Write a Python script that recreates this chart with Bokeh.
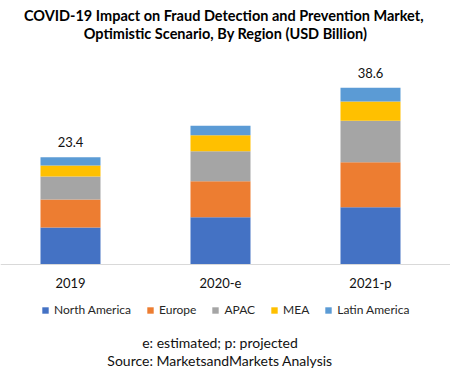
from bokeh.plotting import figure
from bokeh.models import (Range1d, Legend, LegendItem, Label, ColumnDataSource, Span)
from bokeh.core.properties import value
from bokeh.embed import file_html
from bokeh.resources import INLINE

categories = ["2019", "2020-e", "2021-p"]
regions = ["North America", "Europe", "APAC", "MEA", "Latin America"]
north_america = [8.1, 10.3, 12.5]
europe = [6.1, 7.9, 9.8]
apac = [5.0, 6.5, 9.1]
mea = [2.4, 3.5, 4.2]
latin_america = [1.8, 2.1, 3.0]
total_labels = ["23.4", "", "38.6"]
colors = ["#4472C4", "#ED7D31", "#A5A5A5", "#FFC000", "#5B9BD5"]

title_lines = ["COVID-19  Impact on Fraud Detection and Prevention Market,",
               "Optimistic Scenario, By Region (USD Billion)"]
footer_lines = ["e: estimated; p: projected", "Source: MarketsandMarkets Analysis"]

FONT = "Lato"
xs = list(range(len(categories)))
src = ColumnDataSource(dict(
    x=xs,
    **{"North America": north_america, "Europe": europe, "APAC": apac,
       "MEA": mea, "Latin America": latin_america}))

p = figure(width=450, height=371, output_backend="svg", toolbar_location=None,
           x_range=Range1d(-0.46667, 2.53333), y_range=Range1d(-23.36, 57.64),
           x_axis_location=None, y_axis_location=None,
           min_border=0)
p.outline_line_color = None
p.grid.visible = False

renderers = p.vbar_stack(regions, x="x", width=0.4, source=src, color=colors, line_color=None)

# baseline (category axis line)
p.add_layout(Span(location=0, dimension="width", line_color="#D9D9D9", line_width=1))

# category labels
p.text(x=xs, y=[0] * len(xs), text=categories, text_align="center", text_baseline="middle",
       y_offset=18, text_font=value(FONT), text_font_size="13px", text_color="#111111")

# total labels
totals = [sum(v) for v in zip(north_america, europe, apac, mea, latin_america)]
p.text(x=xs, y=totals, text=total_labels, text_align="center", text_baseline="bottom",
       y_offset=-10, text_font=value(FONT), text_font_size="13px", text_color="#111111")

legend = Legend(items=[LegendItem(label=r, renderers=[rr]) for r, rr in zip(regions, renderers)],
                orientation="horizontal", location=(41, 54), border_line_color=None,
                background_fill_alpha=0, glyph_width=8, glyph_height=8, label_height=12,
                label_standoff=5, spacing=15, padding=4, margin=0,
                label_text_font=FONT, label_text_font_size="12px", label_text_color="#262626")
p.add_layout(legend, "center")

for t, yv in zip(title_lines, [54.37, 50.44]):
    p.add_layout(Label(x=1.0333, y=yv, text=t, text_align="center", text_baseline="middle",
                       text_font=FONT, text_font_size="14.5px", text_font_style="bold",
                       text_color="#000000"))
for t, yv in zip(footer_lines, [-17.0, -20.95]):
    p.add_layout(Label(x=0.9967, y=yv, text=t, text_align="center", text_baseline="middle",
                       text_font=FONT, text_font_size="14px", text_color="#111111"))

open("out.html", "w").write(file_html(p, INLINE))
